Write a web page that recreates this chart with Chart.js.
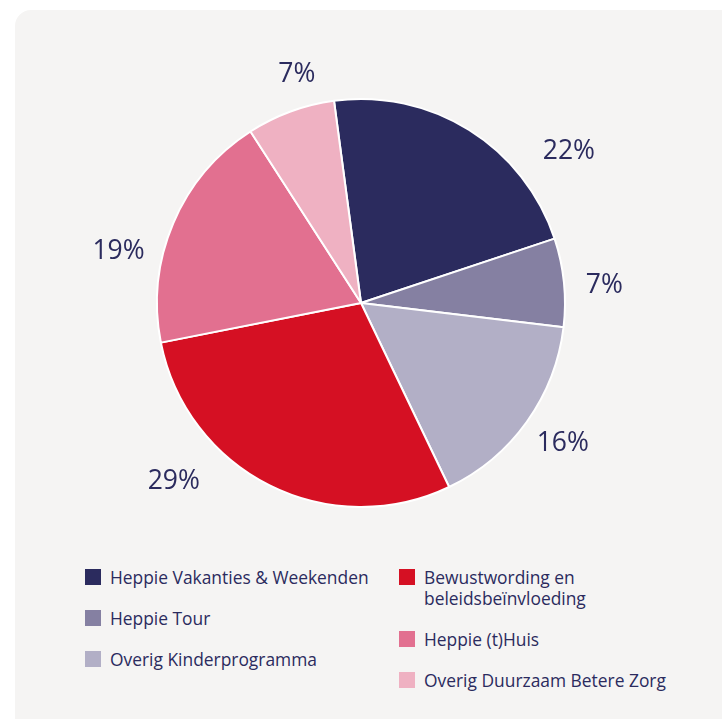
<!DOCTYPE html>
<html lang="nl">
<head>
<meta charset="UTF-8">
<title>Verdeling bestedingen</title>
<script src="https://cdn.jsdelivr.net/npm/chart.js"></script>
<style>
    html, body {
        margin: 0;
        padding: 0;
        background: #ffffff;
        width: 722px;
        height: 719px;
        overflow: hidden;
        font-family: "Open Sans", sans-serif;
    }
    .card {
        position: absolute;
        left: 15px;
        top: 10px;
        width: 740px;
        height: 740px;
        background: #f5f4f3;
        border-radius: 16px;
    }
    .chart-wrap {
        position: absolute;
        left: 0;
        top: 0;
        width: 722px;
        height: 560px;
    }
    #legend {
        position: absolute;
        left: 85px;
        top: 567px;
        display: flex;
        color: #2b2b5e;
        font-size: 17.4px;
        line-height: 21px;
    }
    #legend .col { display: flex; flex-direction: column; }
    #legend .col:first-child { width: 314px; }
    #legend .item { display: flex; align-items: flex-start; margin-bottom: 20px; }
    #legend .box { width: 16px; height: 16px; margin-top: 2px; margin-right: 9px; flex: none; }
    #legend .col:last-child .text { width: 255px; }
</style>
</head>
<body>
<div class="card"></div>
<div class="chart-wrap"><canvas id="pie"></canvas></div>
<div id="legend"></div>

<script>
    // gegevens
    const categories = [
        'Heppie Vakanties & Weekenden',
        'Heppie Tour',
        'Overig Kinderprogramma',
        'Bewustwording en beleidsbeïnvloeding',
        'Heppie (t)Huis',
        'Overig Duurzaam Betere Zorg'
    ];
    const percentages = [22, 7, 16, 29, 19, 7];
    const sliceColors = ['#2b2b5e', '#8580a2', '#b2afc6', '#d51023', '#e27090', '#efb1c2'];

    // labels buiten de taart
    const outsideLabels = {
        id: 'outsideLabels',
        afterDatasetsDraw(chart, args, opts) {
            const ctx = chart.ctx;
            const meta = chart.getDatasetMeta(0);
            ctx.save();
            ctx.fillStyle = opts.color;
            ctx.font = opts.font;
            ctx.textAlign = 'center';
            ctx.textBaseline = 'middle';
            meta.data.forEach((arc, i) => {
                const mid = (arc.startAngle + arc.endAngle) / 2 + opts.shift[i] * Math.PI / 180;
                const r = opts.radius[i];
                const x = arc.x + Math.cos(mid) * r;
                const y = arc.y + Math.sin(mid) * r;
                ctx.fillText(chart.data.datasets[0].data[i] + '%', x, y);
            });
            ctx.restore();
        }
    };

    const chart = new Chart(document.getElementById('pie'), {
        type: 'pie',
        data: {
            labels: categories,
            datasets: [{
                data: percentages,
                backgroundColor: sliceColors,
                borderColor: '#ffffff',
                borderWidth: 2
            }]
        },
        options: {
            responsive: true,
            maintainAspectRatio: false,
            animation: false,
            rotation: -7.6,
            layout: { padding: { left: 156, right: 156, top: 98, bottom: 52 } },
            plugins: {
                legend: { display: false },
                tooltip: { enabled: false },
                outsideLabels: {
                    color: '#2b2b5e',
                    font: '26.5px "Open Sans"',
                    shift: [22, 1.6, -0.7, 19.7, -10.9, 4.5],
                    radius: [257, 244, 246, 259, 248, 237]
                }
            }
        },
        plugins: [outsideLabels]
    });

    // legenda in twee kolommen
    const legend = document.getElementById('legend');
    const items = chart.options.plugins.legend.labels.generateLabels(chart);
    [items.slice(0, 3), items.slice(3)].forEach(group => {
        const col = document.createElement('div');
        col.className = 'col';
        group.forEach(it => {
            const row = document.createElement('div');
            row.className = 'item';
            row.innerHTML = '<span class="box" style="background:' + it.fillStyle + '"></span><span class="text">' + it.text + '</span>';
            col.appendChild(row);
        });
        legend.appendChild(col);
    });
</script>
</body>
</html>
